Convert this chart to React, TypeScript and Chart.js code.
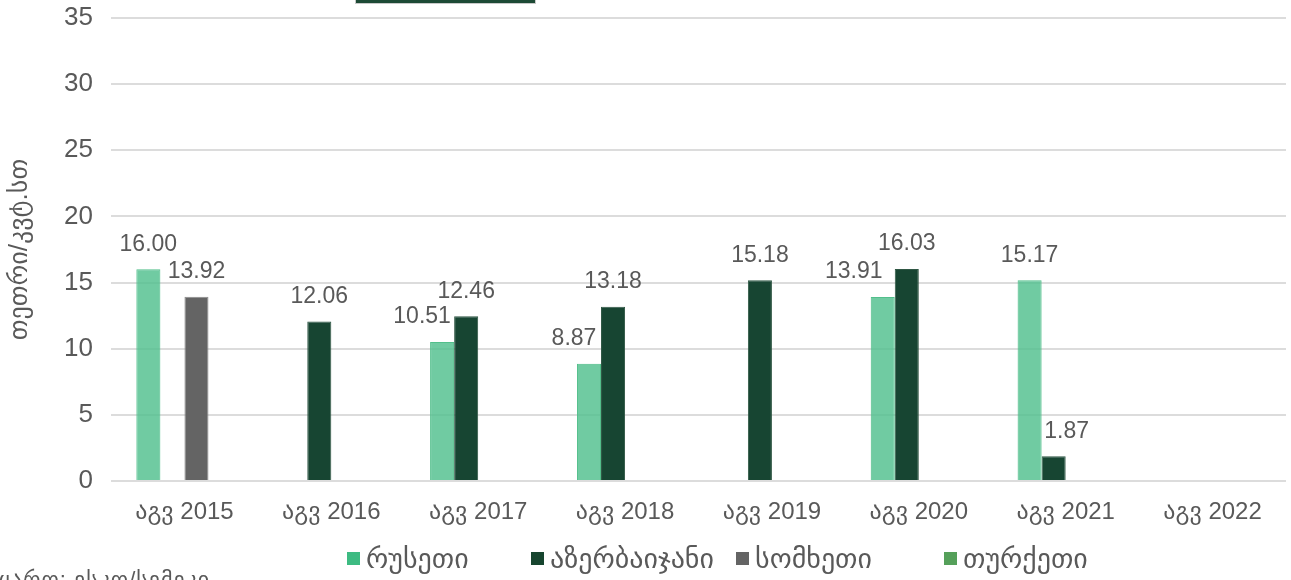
import React, { useEffect, useRef } from "react";
import { Chart, registerables } from "chart.js";

Chart.register(...registerables);

const categories = ["აგვ 2015", "აგვ 2016", "აგვ 2017", "აგვ 2018", "აგვ 2019", "აგვ 2020", "აგვ 2021", "აგვ 2022"];
const seriesNames = ["რუსეთი", "აზერბაიჯანი", "სომხეთი", "თურქეთი"];
const russia = [16.0, null, 10.51, 8.87, null, 13.91, 15.17, null];
const azerbaijan = [null, 12.06, 12.46, 13.18, 15.18, 16.03, 1.87, null];
const armenia = [13.92, null, null, null, null, null, null, null];
const turkey = [null, null, null, null, null, null, null, null];
const yMax = 35;
const yStep = 5;

// label nudges (px) to avoid overlap, like the manual placement in the original
const labelShift = [
  [0, 0, -20, -15, 0, -29, 0, 0],
  [0, 0, 0, 0, 0, 0, 13, 0],
  [0, 0, 0, 0, 0, 0, 0, 0],
  [0, 0, 0, 0, 0, 0, 0, 0],
];

const fills = ["rgba(80,192,142,0.82)", "#174532", "#646464", "#55a05a"];
const borders = ["#52bf8b", "#2f5744", "#8a8a8a", "#55a05a"];
const legendColors = ["#3dbb82", "#17452f", "#646464", "#55a05a"];
const legendLeft = [347, 531, 736, 944];

const FONT = "'Liberation Sans', Arial, 'DejaVu Sans', sans-serif";
const TEXT = "#595959";

const labelPlugin = {
  id: "valueLabels",
  afterDatasetsDraw(chart: any) {
    const ctx = chart.ctx;
    ctx.save();
    ctx.font = `23px ${FONT}`;
    ctx.fillStyle = TEXT;
    ctx.textAlign = "center";
    ctx.textBaseline = "middle";
    chart.data.datasets.forEach((ds: any, di: number) => {
      const meta = chart.getDatasetMeta(di);
      meta.data.forEach((el: any, i: number) => {
        const v = ds.data[i];
        if (v === null || v === undefined) return;
        ctx.fillText(Number(v).toFixed(2), el.x + labelShift[di][i], el.y - 25);
      });
    });
    ctx.restore();
  },
};

export default function App() {
  const ref = useRef<HTMLCanvasElement>(null);
  useEffect(() => {
    if (!ref.current) return;
    const data = [russia, azerbaijan, armenia, turkey];
    const chart = new Chart(ref.current, {
      type: "bar",
      data: {
        labels: categories,
        datasets: data.map((d, i) => ({
          label: seriesNames[i],
          data: d as any,
          backgroundColor: fills[i],
          borderColor: borders[i],
          borderWidth: 1,
          barPercentage: 1,
          categoryPercentage: 0.655,
        })),
      },
      options: {
        responsive: false,
        animation: false,
        layout: { padding: { top: 18, bottom: 49, left: 0, right: 5 } },
        plugins: { legend: { display: false }, tooltip: { enabled: false } },
        scales: {
          x: {
            grid: { display: false, drawTicks: false },
            border: { display: false },
            ticks: { color: TEXT, font: { size: 24, family: FONT }, padding: 17, maxRotation: 0 },
            afterFit(scale: any) {
              scale.height = 50;
            },
          },
          y: {
            min: 0,
            max: yMax,
            ticks: { stepSize: yStep, color: TEXT, font: { size: 26, family: FONT }, padding: 0 },
            grid: { color: "#dcdcdc", lineWidth: 2, drawTicks: true, tickLength: 18, tickColor: "rgba(0,0,0,0)" },
            border: { display: false },
            title: {
              display: true,
              text: "თეთრი/კვტ.სთ",
              color: TEXT,
              font: { size: 26, family: FONT },
              padding: { top: 4, bottom: 0 },
            },
            afterFit(scale: any) {
              scale.width = 111;
            },
          },
        },
      },
      plugins: [labelPlugin],
    });
    return () => chart.destroy();
  }, []);

  return (
    <div style={{ position: "absolute", left: 0, top: 0, width: 1291, height: 580, overflow: "hidden", background: "#fff" }}>
      <canvas ref={ref} width={1291} height={580} style={{ position: "absolute", left: 0, top: 0 }} />
      <div
        style={{
          position: "absolute",
          left: 355,
          top: -10,
          width: 179,
          height: 12,
          background: "#1d4a35",
          border: "1.5px solid #c9c9c9",
        }}
      />
      {seriesNames.map((n, i) => (
        <div
          key={n}
          style={{
            position: "absolute",
            left: legendLeft[i],
            top: 543,
            height: 30,
            display: "flex",
            alignItems: "center",
            fontFamily: FONT,
            fontSize: 28,
            color: TEXT,
            whiteSpace: "nowrap",
          }}
        >
          <span style={{ display: "inline-block", width: 13, height: 13, background: legendColors[i], marginRight: 6 }} />
          <span>{n}</span>
        </div>
      ))}
      <div
        style={{
          position: "absolute",
          left: -14,
          top: 567,
          fontFamily: FONT,
          fontSize: 22,
          letterSpacing: 1,
          color: TEXT,
          whiteSpace: "nowrap",
        }}
      >
        წყარო: ესკო/სემეკი
      </div>
    </div>
  );
}
